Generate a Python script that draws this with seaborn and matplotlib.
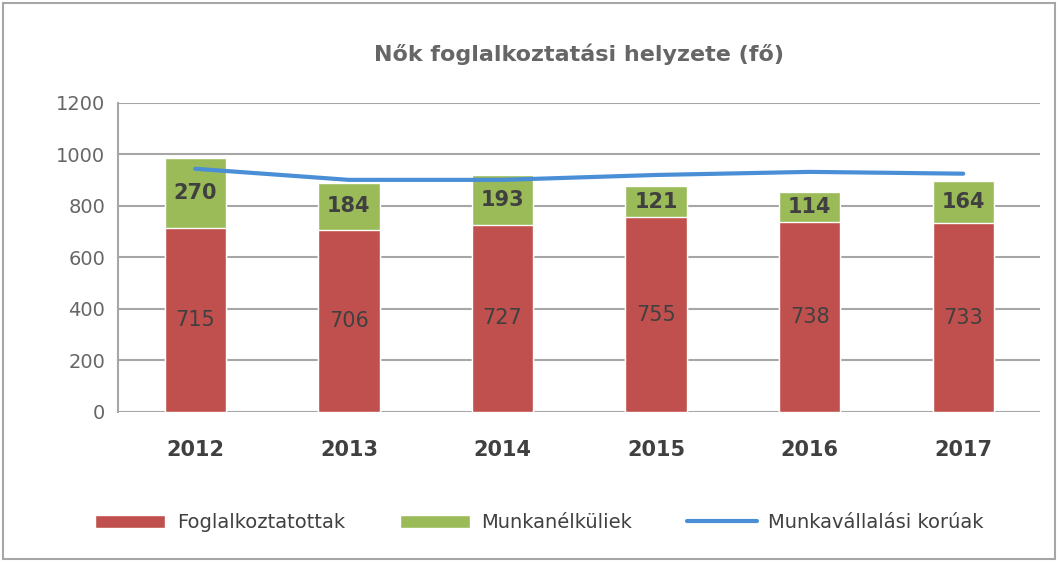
import numpy as np
import pandas as pd
import seaborn as sns
from matplotlib import pyplot as plt

years = ['2012', '2013', '2014', '2015', '2016', '2017']
foglalkoztatottak = [715, 706, 727, 755, 738, 733]
munkanelkuliek = [270, 184, 193, 121, 114, 164]
munkavallalasi_koruak = [944, 901, 901, 920, 932, 925]

df = pd.DataFrame({'Év': years,
                   'Foglalkoztatottak': foglalkoztatottak,
                   'Munkanélküliek': munkanelkuliek,
                   'Munkavállalási korúak': munkavallalasi_koruak})
df['Összes'] = df['Foglalkoztatottak'] + df['Munkanélküliek']
df['pos'] = np.arange(len(df))

sns.set_theme(style='white')
plt.rcParams['font.family'] = ['DejaVu Sans']

red = '#C0504D'
green = '#9BBB59'
blue = '#4A8FD6'

fig, ax = plt.subplots(figsize=(10.58, 5.62), dpi=100)
fig.subplots_adjust(left=0.112, right=0.983, top=0.817, bottom=0.267)

# stacked bars: total (green) behind, employed (red) in front
sns.barplot(data=df, x='Év', y='Összes', color=green, width=0.4, ax=ax,
            saturation=1, label='Munkanélküliek', zorder=2)
sns.barplot(data=df, x='Év', y='Foglalkoztatottak', color=red, width=0.4, ax=ax,
            saturation=1, label='Foglalkoztatottak', zorder=3)
sns.lineplot(data=df, x='pos', y='Munkavállalási korúak', color=blue, lw=3,
             ax=ax, label='Munkavállalási korúak', zorder=4)

for i, row in df.iterrows():
    ax.text(i, row['Foglalkoztatottak'] / 2, str(row['Foglalkoztatottak']),
            ha='center', va='center', fontsize=15, color='#404040', zorder=5)
    ax.text(i, row['Foglalkoztatottak'] + row['Munkanélküliek'] / 2,
            str(row['Munkanélküliek']), ha='center', va='center',
            fontsize=15, fontweight='bold', color='#404040', zorder=5)

ax.set_ylim(0, 1200)
ax.set_yticks(range(0, 1201, 200))
ax.set_xlim(-0.5, 5.5)
ax.yaxis.grid(True, color='#A6A6A6', lw=1.5, zorder=0)
ax.set_axisbelow(True)
ax.set_xlabel('')
ax.set_ylabel('')
ax.set_title('Nők foglalkoztatási helyzete (fő)', fontsize=16, fontweight='bold',
             color='#666666', pad=30)
ax.tick_params(axis='x', labelsize=15, colors='#404040', pad=14)
ax.tick_params(axis='y', labelsize=14, colors='#666666')
for lbl in ax.get_xticklabels():
    lbl.set_fontweight('bold')
for side in ['top', 'right', 'bottom']:
    ax.spines[side].set_visible(False)
ax.spines['left'].set_color('#A6A6A6')
ax.spines['left'].set_linewidth(1.5)

handles, labels = ax.get_legend_handles_labels()
ax.get_legend().remove()
order = [labels.index(l) for l in ['Foglalkoztatottak', 'Munkanélküliek', 'Munkavállalási korúak']]
fig.legend([handles[k] for k in order], [labels[k] for k in order],
           loc='center', bbox_to_anchor=(0.51, 0.07), ncol=3, frameon=False,
           fontsize=14, handlelength=3.6, handletextpad=0.6, columnspacing=2.8,
           labelcolor='#404040')

fig.patches.append(plt.Rectangle((0.003, 0.005), 0.994, 0.99, transform=fig.transFigure,
                                 fill=False, edgecolor='#A6A6A6', lw=1.5))

fig.savefig('out.png', dpi=100)
